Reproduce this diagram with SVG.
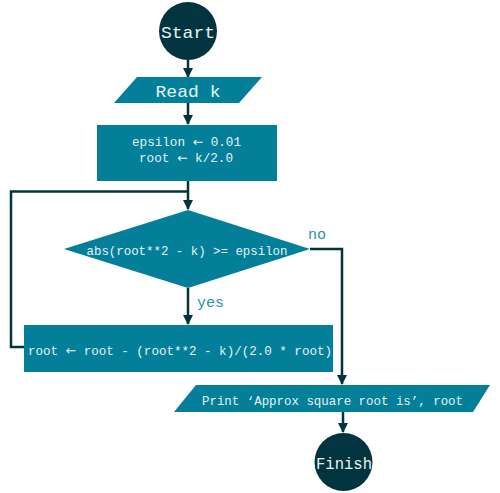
<svg xmlns="http://www.w3.org/2000/svg" width="500" height="493" viewBox="0 0 500 493">
<defs>
<style>
.term{fill:#02343f;}
.box{fill:#037f99;}
.t{font-family:"Liberation Mono","Courier New",monospace;fill:#e6f2f4;text-anchor:middle;}
.ar{font-family:"DejaVu Sans",sans-serif;}
.lbl{font-family:"Liberation Mono","Courier New",monospace;fill:#2a90a8;font-size:15px;}
.edge{fill:none;stroke:#02343f;stroke-width:2.5;}
</style>
<marker id="arr" viewBox="0 0 10 10" refX="9" refY="5" markerWidth="4" markerHeight="4" orient="auto" markerUnits="strokeWidth">
<path d="M0,0 L10,5 L0,10 z" fill="#02343f"/>
</marker>
</defs>
<rect width="500" height="493" fill="#ffffff"/>
<g id="connectors">
<path class="edge" d="M188,60 V77" marker-end="url(#arr)"/>
<path class="edge" d="M188,103 V124" marker-end="url(#arr)"/>
<path class="edge" d="M188,181 V209" marker-end="url(#arr)"/>
<path class="edge" d="M24,347 H11 V191.5 H188"/>
<path class="edge" d="M188,288 V324" marker-end="url(#arr)"/>
<path class="edge" d="M310,249 H342 V384" marker-end="url(#arr)"/>
<path class="edge" d="M343,412 V432" marker-end="url(#arr)"/>
</g>
<g id="start">
<circle class="term" cx="188" cy="31" r="29"/>
<text class="t" x="188" y="38" font-size="17" textLength="54" lengthAdjust="spacingAndGlyphs">Start</text>
</g>
<g id="read">
<polygon class="box" points="137,77 262,77 239,103 114,103"/>
<text class="t" x="188" y="97" font-size="17" textLength="65" lengthAdjust="spacingAndGlyphs">Read k</text>
</g>
<g id="init">
<rect class="box" x="97" y="125" width="180" height="56"/>
<text class="t" x="186.5" y="146" font-size="12.5" textLength="109" lengthAdjust="spacingAndGlyphs">epsilon <tspan class="ar">←</tspan> 0.01</text>
<text class="t" x="186" y="162" font-size="12.5" textLength="94" lengthAdjust="spacingAndGlyphs">root <tspan class="ar">←</tspan> k/2.0</text>
</g>
<g id="decision">
<polygon class="box" points="188,210 310,249 188,288 64,249"/>
<text class="t" x="187" y="255" font-size="13" textLength="201" lengthAdjust="spacingAndGlyphs">abs(root**2 - k) &gt;= epsilon</text>
</g>
<g id="update">
<rect class="box" x="24" y="325" width="309" height="47"/>
<text class="t" x="180" y="355" font-size="13" textLength="304" lengthAdjust="spacingAndGlyphs">root <tspan class="ar">←</tspan> root - (root**2 - k)/(2.0 * root)</text>
</g>
<g id="print">
<polygon class="box" points="196,385 490,385 473,412 174,412"/>
<text class="t" x="332.5" y="405" font-size="13" textLength="261" lengthAdjust="spacingAndGlyphs">Print ‘Approx square root is’, root</text>
</g>
<g id="finish">
<circle class="term" cx="343.5" cy="462" r="29"/>
<text class="t" x="344" y="469" font-size="16" textLength="56" lengthAdjust="spacingAndGlyphs">Finish</text>
</g>
<g id="labels">
<text class="lbl" x="308" y="239">no</text>
<text class="lbl" x="197" y="307">yes</text>
</g>
</svg>
